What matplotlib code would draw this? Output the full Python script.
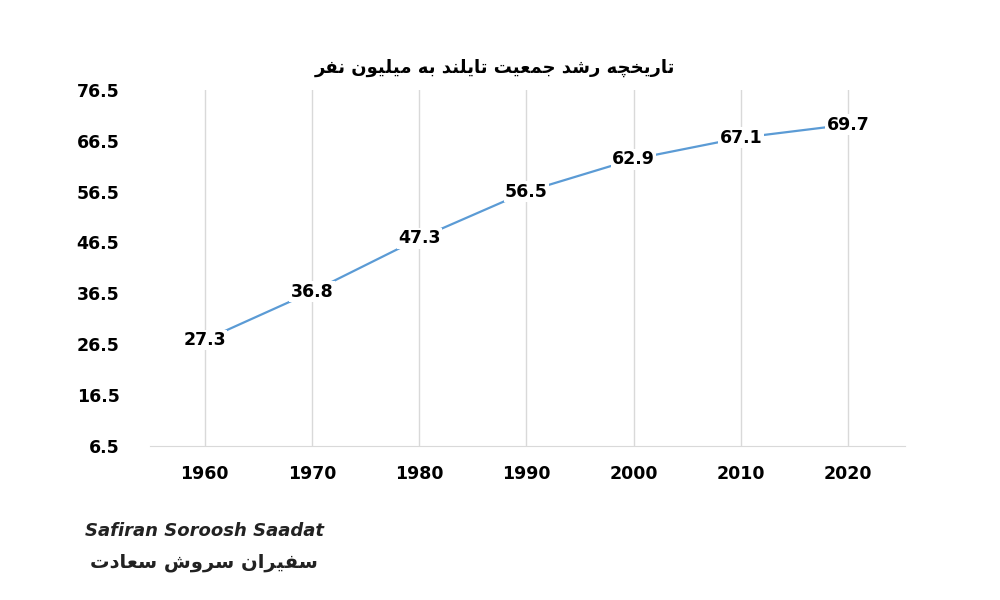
import matplotlib
matplotlib.use("Agg")
import matplotlib.pyplot as plt

years = ["1960", "1970", "1980", "1990", "2000", "2010", "2020"]
population = [27.3, 36.8, 47.3, 56.5, 62.9, 67.1, 69.7]
y_ticks = [6.5, 16.5, 26.5, 36.5, 46.5, 56.5, 66.5, 76.5]
title = "تاریخچه رشد جمعیت تایلند به میلیون نفر"
brand_en = "Safiran Soroosh Saadat"
brand_fa = "سفیران سروش سعادت"

# tiny arabic shaper: (isolated, final, initial, medial); 2-tuple = right-joining only
FORMS = {
    "ا": (0xFE8D, 0xFE8E), "د": (0xFEA9, 0xFEAA), "ر": (0xFEAD, 0xFEAE), "و": (0xFEED, 0xFEEE),
    "ب": (0xFE8F, 0xFE90, 0xFE91, 0xFE92), "ت": (0xFE95, 0xFE96, 0xFE97, 0xFE98),
    "ج": (0xFE9D, 0xFE9E, 0xFE9F, 0xFEA0), "خ": (0xFEA5, 0xFEA6, 0xFEA7, 0xFEA8),
    "س": (0xFEB1, 0xFEB2, 0xFEB3, 0xFEB4), "ش": (0xFEB5, 0xFEB6, 0xFEB7, 0xFEB8),
    "ع": (0xFEC9, 0xFECA, 0xFECB, 0xFECC), "ف": (0xFED1, 0xFED2, 0xFED3, 0xFED4),
    "ل": (0xFEDD, 0xFEDE, 0xFEDF, 0xFEE0), "م": (0xFEE1, 0xFEE2, 0xFEE3, 0xFEE4),
    "ن": (0xFEE5, 0xFEE6, 0xFEE7, 0xFEE8), "ه": (0xFEE9, 0xFEEA, 0xFEEB, 0xFEEC),
    "ی": (0xFBFC, 0xFBFD, 0xFBFE, 0xFBFF), "چ": (0xFB7A, 0xFB7B, 0xFB7C, 0xFB7D),
}


def shape(text):
    out = []
    for i, ch in enumerate(text):
        f = FORMS.get(ch)
        if f is None:
            out.append(ch)
            continue
        prev = text[i - 1] if i > 0 else " "
        nxt = text[i + 1] if i + 1 < len(text) else " "
        join_prev = prev in FORMS and len(FORMS[prev]) == 4
        join_next = len(f) == 4 and nxt in FORMS
        if join_prev and join_next:
            c = f[3]
        elif join_prev:
            c = f[1]
        elif join_next:
            c = f[2]
        else:
            c = f[0]
        out.append(chr(c))
    return "".join(out)[::-1]


plt.rcParams["font.family"] = ["DejaVu Sans"]
fig = plt.figure(figsize=(10, 6), dpi=100)
ax = fig.add_axes([0.15, 0.257, 0.755, 0.593])

x = list(range(len(years)))
ax.plot(x, population, color="#5B9BD5", lw=1.6, zorder=2)
for xi, v in zip(x, population):
    ax.text(xi, v, f"{v}", ha="center", va="center", fontsize=12.5, fontweight="bold",
            zorder=3, bbox=dict(facecolor="white", edgecolor="none", pad=1))

ax.set_xlim(-0.51, 6.53)
ax.set_ylim(6.5, 76.5)
ax.set_yticks(y_ticks)
ax.set_xticks(x)
ax.set_xticklabels(years)
ax.grid(axis="x", color="#D9D9D9", lw=1)
ax.set_axisbelow(True)
for s in ["top", "right", "left"]:
    ax.spines[s].set_visible(False)
ax.spines["bottom"].set_color("#D9D9D9")
ax.tick_params(length=0, labelsize=12.5, pad=14)
ax.tick_params(axis="y", pad=22)
for lab in ax.get_xticklabels() + ax.get_yticklabels():
    lab.set_fontweight("bold")

fig.text(0.495, 0.887, shape(title), ha="center", va="center", fontsize=13, fontweight="bold")
fig.text(0.085, 0.115, brand_en, ha="left", va="center", fontsize=13, fontweight="bold",
         style="italic", color="#222222")
fig.text(0.09, 0.062, shape(brand_fa), ha="left", va="center", fontsize=14, fontweight="bold",
         color="#222222")

fig.savefig("out.png", dpi=100)
